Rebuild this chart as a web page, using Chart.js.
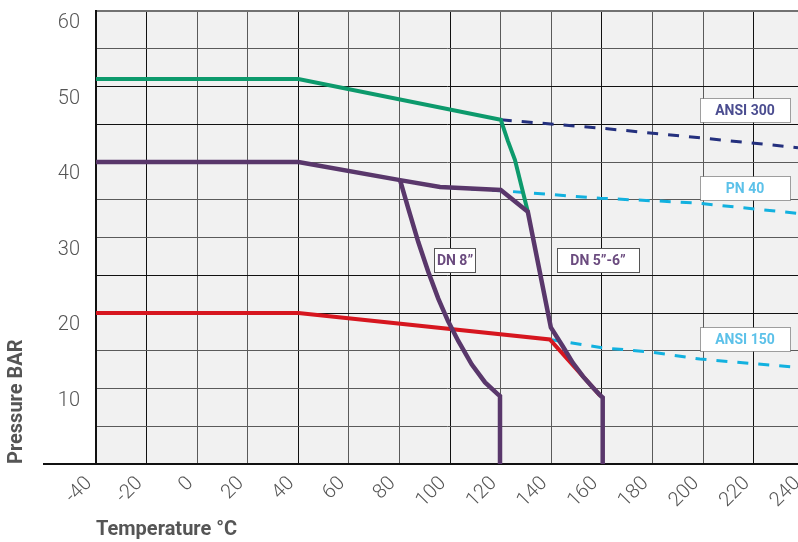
<!DOCTYPE html>
<html>
<head>
<meta charset="utf-8">
<script src="https://cdn.jsdelivr.net/npm/chart.js@4.4.1/dist/chart.umd.min.js"></script>
<style>
  html, body { margin: 0; padding: 0; background: #fff; }
  #wrap { width: 798px; height: 542px; }
</style>
</head>
<body>
<div id="wrap"><canvas id="chart" width="798" height="542"></canvas></div>
<script>
// Pressure / temperature ratings
const tempTicks = [-40, -20, 0, 20, 40, 60, 80, 100, 120, 140, 160, 180, 200, 220, 240];
const pressureTicks = [0, 5, 10, 15, 20, 25, 30, 35, 40, 45, 50, 55, 60];

// green body curve (ANSI 300)
const greenTemp = [-40, 40, 120, 122.8, 125.6, 130.7];
const greenPressure = [51, 51, 45.6, 42.8, 40.3, 33.4];

// purple body curve, running on into the DN 5"-6" seat limit
const purpleTemp = [-40, 40, 80.2, 96, 120, 130.7, 139.8, 144.5, 148.5, 152.5, 156.5, 159.6, 160.3, 160.3];
const purplePressure = [40, 40, 37.6, 36.7, 36.3, 33.4, 18.1, 15.6, 13.4, 11.6, 10.1, 9.0, 8.8, 0];

// DN 8" seat limit
const dn8Temp = [80.2, 83.4, 87.4, 91.3, 95.3, 99.2, 103.2, 108.5, 113.8, 119.0, 119.7, 119.7];
const dn8Pressure = [37.6, 33.9, 29.4, 25.5, 21.9, 18.9, 16.3, 13.2, 10.8, 9.2, 9.0, 0];

// red body curve (ANSI 150)
const redTemp = [-40, 40, 139.4, 159.2];
const redPressure = [20, 20, 16.5, 9.1];

// dashed class limits
const ansi300Temp = [120, 159.2, 198.8, 237.5];
const ansi300Pressure = [45.6, 44.5, 43.2, 41.9];
const pn40Temp = [100, 120, 159.2, 196.4, 237.5];
const pn40Pressure = [36.6, 36.2, 35.2, 34.6, 33.2];
const ansi150Temp = [139.4, 160, 180.2, 198.7, 237.5];
const ansi150Pressure = [16.5, 15.4, 14.8, 13.9, 12.8];

const toPoints = (t, p) => t.map((x, i) => ({ x: x, y: p[i] }));

const darkX = [-20, 40, 100, 160, 220];
const darkY = [20, 25, 45, 50];

const plotBackground = {
  id: 'plotBackground',
  beforeDraw(chart) {
    const { ctx, chartArea: a } = chart;
    ctx.save();
    ctx.fillStyle = '#f1f1f1';
    ctx.fillRect(a.left, a.top, a.right - a.left, a.bottom - a.top);
    ctx.restore();
  },
  afterDraw(chart) {
    // base line runs on to the left under the axis title
    const { ctx, chartArea: a } = chart;
    ctx.save();
    ctx.strokeStyle = '#111';
    ctx.lineWidth = 2;
    ctx.beginPath();
    ctx.moveTo(a.left - 53, a.bottom);
    ctx.lineTo(a.left, a.bottom);
    ctx.stroke();
    ctx.restore();
  }
};

const noteBoxes = {
  id: 'noteBoxes',
  afterDatasetsDraw(chart, args, opts) {
    const { ctx, scales: { x, y } } = chart;
    opts.items.forEach(n => {
      const cx = Math.round(x.getPixelForValue(n.x));
      const cy = Math.round(y.getPixelForValue(n.y));
      const left = cx - Math.round(n.w / 2) + 0.5;
      const top = cy - 12 + 0.5;
      ctx.save();
      ctx.fillStyle = '#fff';
      ctx.fillRect(left, top, n.w, 24);
      ctx.strokeStyle = n.dotted ? '#444' : '#555';
      ctx.lineWidth = 1;
      ctx.setLineDash(n.dotted ? [1, 1] : []);
      ctx.strokeRect(left, top, n.w, 24);
      ctx.setLineDash([]);
      ctx.font = 'bold 14px Roboto';
      ctx.fillStyle = n.color;
      ctx.textAlign = 'center';
      ctx.textBaseline = 'middle';
      ctx.fillText(n.text, cx, cy + 1);
      ctx.restore();
    });
  }
};

new Chart(document.getElementById('chart'), {
  type: 'line',
  data: {
    datasets: [
      { data: toPoints(purpleTemp, purplePressure), borderColor: '#59376b', borderWidth: 4.5 },
      { data: toPoints(dn8Temp, dn8Pressure), borderColor: '#59376b', borderWidth: 4.5 },
      { data: toPoints(greenTemp, greenPressure), borderColor: '#0d9a6c', borderWidth: 4 },
      { data: toPoints(redTemp, redPressure), borderColor: '#d6161f', borderWidth: 4 },
      { data: toPoints(ansi300Temp, ansi300Pressure), borderColor: '#24307e', borderWidth: 3, borderDash: [11, 10] },
      { data: toPoints(pn40Temp, pn40Pressure), borderColor: '#12b1df', borderWidth: 3, borderDash: [11, 10] },
      { data: toPoints(ansi150Temp, ansi150Pressure), borderColor: '#12b1df', borderWidth: 3, borderDash: [11, 10] }
    ]
  },
  options: {
    responsive: false,
    animation: false,
    devicePixelRatio: 1,
    parsing: false,
    elements: { point: { radius: 0 }, line: { tension: 0, fill: false } },
    layout: { padding: { top: 11, right: 0, bottom: 0, left: 0 } },
    plugins: {
      legend: { display: false },
      tooltip: { enabled: false },
      noteBoxes: {
        items: [
          { text: 'ANSI 300', x: 216.5, y: 46.9, w: 90, color: '#4b4d90', dotted: true },
          { text: 'PN 40', x: 216.5, y: 36.6, w: 90, color: '#5cc1e9', dotted: true },
          { text: 'ANSI 150', x: 216.5, y: 16.5, w: 90, color: '#5cc1e9', dotted: true },
          { text: 'DN 8\u201d', x: 102.1, y: 27, w: 41, color: '#6b4b7f', dotted: false },
          { text: 'DN 5\u201d-6\u201d', x: 158.4, y: 27, w: 82, color: '#6b4b7f', dotted: false }
        ]
      }
    },
    scales: {
      x: {
        type: 'linear',
        min: -40,
        max: 237.5,
        afterBuildTicks: axis => { axis.ticks = tempTicks.map(v => ({ value: v })); },
        afterFit: axis => { axis.height = 78; axis.paddingLeft = 0; axis.paddingRight = 0; },
        grid: {
          drawTicks: false,
          color: c => darkX.includes(c.tick && c.tick.value) ? '#111' : '#5a5a5a',
          lineWidth: 1
        },
        border: { color: '#111', width: 2 },
        ticks: {
          autoSkip: false,
          maxRotation: 45,
          minRotation: 45,
          padding: 8,
          labelOffset: -7,
          color: '#555',
          font: { family: 'Roboto', size: 20, weight: 300 }
        },
        title: {
          display: true,
          text: 'Temperature °C',
          align: 'start',
          color: '#555',
          font: { family: 'Roboto', size: 20, weight: 'bold' },
          padding: { top: 0, bottom: 0 }
        }
      },
      y: {
        min: 0,
        max: 60,
        afterBuildTicks: axis => { axis.ticks = pressureTicks.map(v => ({ value: v })); },
        afterFit: axis => { axis.width = 96; axis.paddingTop = 0; axis.paddingBottom = 0; },
        grid: {
          drawTicks: false,
          color: c => {
            const v = c.tick && c.tick.value;
            if (v === 60) return '#727272';
            return darkY.includes(v) ? '#111' : '#5a5a5a';
          },
          lineWidth: c => (c.tick && c.tick.value === 60) ? 2 : 1
        },
        border: { color: '#111', width: 2 },
        ticks: {
          padding: 16,
          labelOffset: 12,
          color: '#555',
          font: { family: 'Roboto', size: 20, weight: 300 },
          callback: v => (v % 10 === 0 && v > 0) ? v : ''
        },
        title: {
          display: true,
          text: 'Pressure BAR',
          align: 'start',
          color: '#555',
          font: { family: 'Roboto', size: 20, weight: 'bold' },
          padding: { top: 5, bottom: 0 }
        }
      }
    }
  },
  plugins: [plotBackground, noteBoxes]
});
</script>
</body>
</html>
